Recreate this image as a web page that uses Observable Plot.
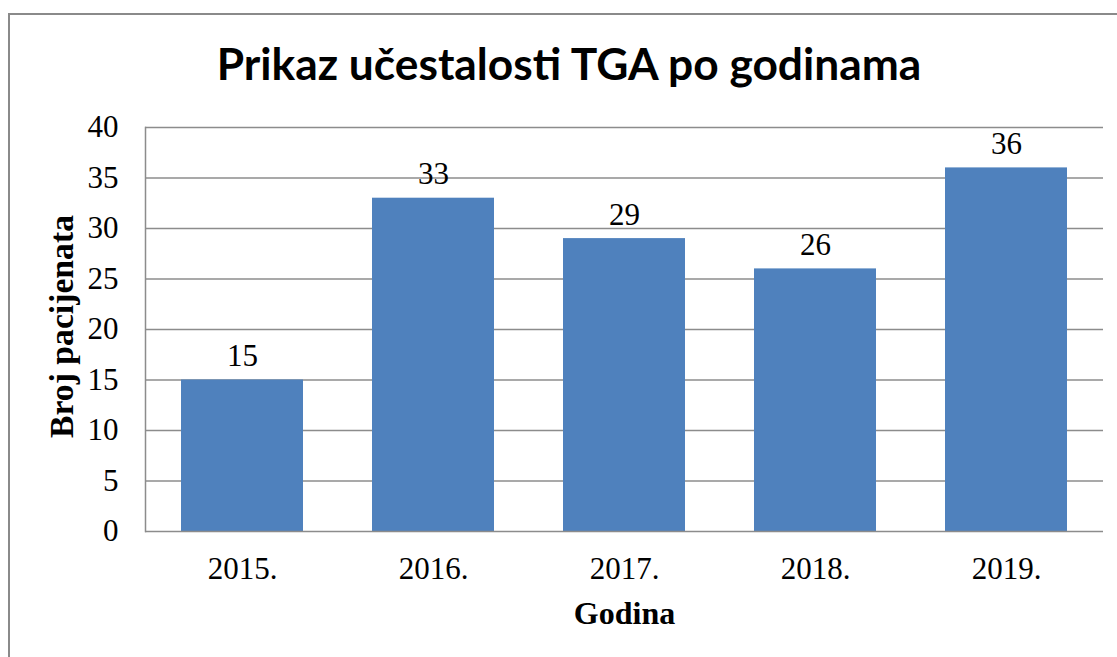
<!DOCTYPE html>
<html><head><meta charset="utf-8">
<script src="https://cdn.jsdelivr.net/npm/d3@7"></script>
<script src="https://cdn.jsdelivr.net/npm/@observablehq/plot@0.6"></script>
<style>
html,body{margin:0;padding:0;background:#fff;overflow:hidden;}
#wrap{position:relative;width:1117px;height:657px;}
#title{position:relative;height:100px;}
#title span{position:absolute;left:569px;top:41px;transform:translateX(-50%);font-family:Lato,'Open Sans',sans-serif;font-weight:700;font-size:44.3px;line-height:44px;white-space:nowrap;color:#000;}
#border{position:absolute;left:8px;top:13px;width:2000px;height:2000px;border-left:2px solid #8a8a8a;border-top:2px solid #8a8a8a;pointer-events:none;}
</style></head>
<body><div id="wrap"><div id="title"><span id="t"></span></div><div id="chart"></div><div id="border"></div></div>
<script>
const titleText = "Prikaz učestalosti TGA po godinama";
const xLabel = "Godina";
const yLabel = "Broj pacijenata";
const years = ["2015.", "2016.", "2017.", "2018.", "2019."];
const patients = [15, 33, 29, 26, 36];
const yTicks = [0, 5, 10, 15, 20, 25, 30, 35, 40];

document.getElementById("t").textContent = titleText;
const data = years.map((year, i) => ({year, count: patients[i]}));
const serif = "'Liberation Serif', 'Times New Roman', serif";
const gridColor = "#8c8c8c";
const fs = 31;

const plot = Plot.plot({
  width: 1117, height: 557,
  marginTop: 27, marginBottom: 126, marginLeft: 145, marginRight: 14,
  style: {fontFamily: serif, fontSize: fs + "px", color: "#000", background: "transparent", overflow: "visible"},
  x: {domain: years, paddingInner: 0.36, paddingOuter: 0.18, label: null},
  y: {domain: [0, 40], label: null},
  marks: [
    Plot.ruleY(yTicks.filter(d => d > 0), {stroke: gridColor, strokeWidth: 1.5}),
    Plot.barY(data, {x: "year", y: "count", fill: "#4f81bd"}),
    Plot.ruleY([0], {stroke: gridColor, strokeWidth: 1.5}),
    Plot.frame({anchor: "left", stroke: gridColor, strokeWidth: 1.5}),
    Plot.axisX({tickSize: 0, tickPadding: 25, fontSize: fs, label: null}),
    Plot.axisY({ticks: yTicks, tickSize: 0, tickPadding: 27, fontSize: fs, label: null}),
    Plot.text(data, {x: "year", y: "count", text: d => String(d.count), dy: -14, lineAnchor: "bottom", fontSize: fs}),
    Plot.text([xLabel], {text: d => d, frameAnchor: "bottom", textAnchor: "middle", dy: 92, lineAnchor: "bottom", fontWeight: "bold", fontSize: 32}),
    Plot.text([yLabel], {text: d => d, frameAnchor: "left", textAnchor: "middle", lineAnchor: "middle", dx: -83, dy: -3, rotate: -90, fontWeight: "bold", fontSize: 33.7})
  ]
});
document.getElementById("chart").appendChild(plot);
</script>
</body></html>
